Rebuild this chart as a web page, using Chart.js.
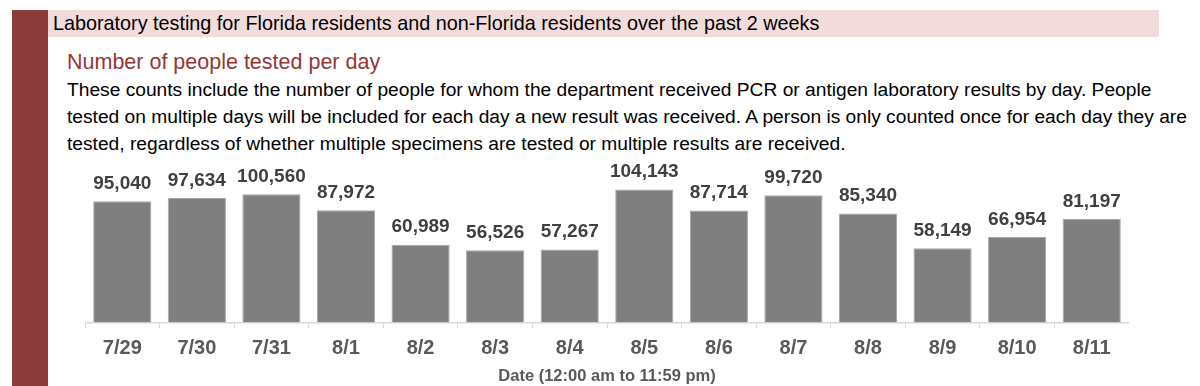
<!DOCTYPE html>
<html>
<head>
<meta charset="utf-8">
<script src="https://cdn.jsdelivr.net/npm/chart.js@4"></script>
<style>
  body { margin: 0; width: 1200px; height: 386px; background: #fff; overflow: hidden; position: relative; font-family: "Liberation Sans", Arial, sans-serif; }
  #sidebar { position: absolute; left: 12px; top: 10px; width: 36px; height: 376px; background: #8c3b3b; }
  #header { position: absolute; left: 48px; top: 10px; width: 1111px; height: 27px; background: #f2dcdb; }
  #header span { position: absolute; left: 5px; top: 2px; font-size: 19.8px; color: #000; white-space: nowrap; }
  #subtitle { position: absolute; left: 67px; top: 50px; font-size: 21.5px; color: #953735; white-space: nowrap; }
  #para { position: absolute; left: 67px; top: 76px; font-size: 19.2px; line-height: 27px; color: #000; white-space: nowrap; }
  #wrap { position: absolute; left: 85px; top: 150px; width: 1044px; height: 236px; }
</style>
</head>
<body>
<div id="sidebar"></div>
<div id="header"><span>Laboratory testing for Florida residents and non-Florida residents over the past 2 weeks</span></div>
<div id="subtitle">Number of people tested per day</div>
<div id="para">These counts include the number of people for whom the department received PCR or antigen laboratory results by day. People<br>tested on multiple days will be included for each day a new result was received. A person is only counted once for each day they are<br>tested, regardless of whether multiple specimens are tested or multiple results are received.</div>
<div id="wrap"><canvas id="Chart1"></canvas></div>
<script>
const days = ["7/29", "7/30", "7/31", "8/1", "8/2", "8/3", "8/4", "8/5", "8/6", "8/7", "8/8", "8/9", "8/10", "8/11"];
const peopleTested = [95040, 97634, 100560, 87972, 60989, 56526, 57267, 104143, 87714, 99720, 85340, 58149, 66954, 81197];

// labels above each bar
const valueLabels = {
    id: "valueLabels",
    afterDatasetsDraw(chart) {
        const ctx = chart.ctx;
        const meta = chart.getDatasetMeta(0);
        ctx.save();
        ctx.font = "bold 19px 'Liberation Sans', Arial, sans-serif";
        ctx.fillStyle = "#404040";
        ctx.textAlign = "center";
        ctx.textBaseline = "bottom";
        meta.data.forEach(function (bar, i) {
            ctx.fillText(peopleTested[i].toLocaleString("en-US"), bar.x, bar.y - 8);
        });
        ctx.restore();
    },
};

const ctx = document.getElementById("Chart1");
new Chart(ctx, {
    type: "bar",
    data: {
        labels: days,
        datasets: [
            {
                label: "Number of people tested",
                data: peopleTested,
                backgroundColor: "#7f7f7f",
                borderColor: "#a6a6a6",
                borderWidth: 1,
                categoryPercentage: 1,
                barPercentage: 0.78,
            },
        ],
    },
    options: {
        responsive: true,
        maintainAspectRatio: false,
        animation: false,
        layout: { padding: { top: 20, left: 0, right: 0, bottom: 1 } },
        plugins: {
            legend: { display: false },
            tooltip: { enabled: false },
        },
        scales: {
            x: {
                grid: {
                    drawOnChartArea: false,
                    drawTicks: true,
                    tickLength: 6,
                    color: "#d9d9d9",
                },
                border: { color: "#d9d9d9", width: 1.5 },
                ticks: {
                    color: "#595959",
                    padding: 8,
                    font: { family: "'Liberation Sans', Arial, sans-serif", size: 20, weight: "bold" },
                },
                title: {
                    display: true,
                    text: "Date (12:00 am to 11:59 pm)",
                    color: "#595959",
                    padding: { top: 0, bottom: 0 },
                    font: { family: "'Liberation Sans', Arial, sans-serif", size: 16.5, weight: "bold", lineHeight: 1 },
                },
            },
            y: {
                display: false,
                min: 0,
                max: 119500,
            },
        },
    },
    plugins: [valueLabels],
});
</script>
</body>
</html>
